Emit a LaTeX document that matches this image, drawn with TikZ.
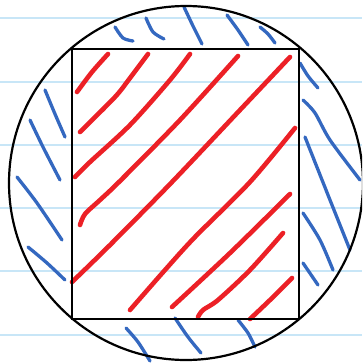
\documentclass[tikz,border=0pt]{standalone}
\definecolor{ruleblue}{RGB}{200,230,247}
\definecolor{hatchred}{RGB}{236,32,38}
\definecolor{hatchblue}{RGB}{52,104,192}
\tikzset{
  rule/.style={ruleblue, line width=1.6pt},
  outline/.style={black, line width=2.2pt},
  redhatch/.style={hatchred, line width=4.6pt, line cap=round, line join=round},
  bluehatch/.style={hatchblue, line width=3.3pt, line cap=round, line join=round},
}
\begin{document}
\begin{tikzpicture}[x=1pt,y=-1pt]
\useasboundingbox (0,0) rectangle (362,364);
\clip (0,0) rectangle (362,364);
\fill[white] (0,0) rectangle (362,364);
% ruled paper
\foreach \yy in {18,82,145,208,271,335}
  \draw[rule] (0,\yy) -- (362,\yy);
% red hatching inside the square
\draw[redhatch] plot[smooth] coordinates {(77,92) (92,72) (108,54)};
\draw[redhatch] plot[smooth] coordinates {(80,132) (115,97) (130,78) (148,54)};
\draw[redhatch] plot[smooth] coordinates {(75,177) (90,162) (130,125) (170,80) (190,54)};
\draw[redhatch] plot[smooth] coordinates {(80,225) (85,214) (100,200) (120,181) (180,120) (238,56)};
\draw[redhatch] plot[smooth] coordinates {(72,282) (110,245) (172,182) (240,110) (290,57)};
\draw[redhatch] plot[smooth] coordinates {(130,310) (165,270) (195,237) (250,182) (295,128)};
\draw[redhatch] plot[smooth] coordinates {(172,307) (230,253) (290,194)};
\draw[redhatch] plot[smooth] coordinates {(198,317) (203,310) (218,300) (250,270) (283,233)};
\draw[redhatch] plot[smooth] coordinates {(250,319) (270,300) (292,278)};
% blue hatching in the segments
% top
\draw[bluehatch] plot[smooth] coordinates {(115,27) (123,38) (133,41)};
\draw[bluehatch] plot[smooth] coordinates {(146,18) (153,32) (164,39)};
\draw[bluehatch] plot[smooth] coordinates {(184,7) (193,26) (202,44)};
\draw[bluehatch] plot[smooth] coordinates {(227,15) (238,30) (248,45)};
\draw[bluehatch] plot[smooth] coordinates {(260,27) (268,34) (275,43)};
% left
\draw[bluehatch] plot[smooth] coordinates {(45,90) (55,114) (65,137)};
\draw[bluehatch] plot[smooth] coordinates {(30,120) (43,147) (60,180)};
\draw[bluehatch] plot[smooth] coordinates {(17,177) (37,203) (62,240)};
\draw[bluehatch] plot[smooth] coordinates {(28,247) (47,263) (65,280)};
% right
\draw[bluehatch] plot[smooth] coordinates {(300,63) (308,76) (318,88)};
\draw[bluehatch] plot[smooth] coordinates {(303,100) (315,113) (330,140) (360,180)};
\draw[bluehatch] plot[smooth] coordinates {(305,137) (330,200) (350,250)};
\draw[bluehatch] plot[smooth] coordinates {(303,213) (320,240) (333,270)};
\draw[bluehatch] plot[smooth] coordinates {(303,263) (318,285)};
% bottom
\draw[bluehatch] plot[smooth] coordinates {(126,328) (138,342) (150,361)};
\draw[bluehatch] plot[smooth] coordinates {(175,318) (188,337) (201,353)};
\draw[bluehatch] plot[smooth] coordinates {(238,320) (248,333) (255,347)};
% circle and inscribed rectangle
\draw[outline] (186,183) circle[radius=177];
\draw[outline] (72,49) rectangle (299,319);
\end{tikzpicture}
\end{document}
